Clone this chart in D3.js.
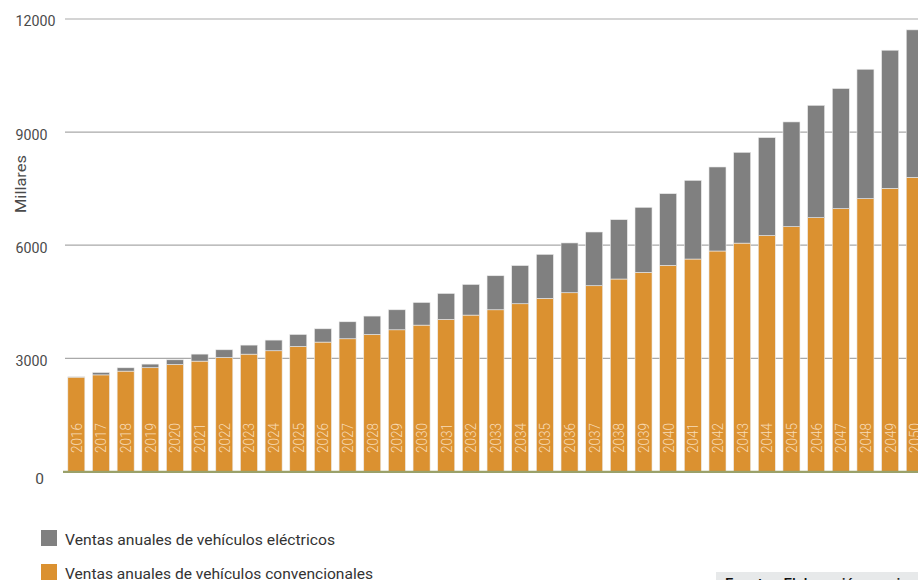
<!DOCTYPE html>
<html>
<head>
<meta charset="utf-8">
<script src="https://cdn.jsdelivr.net/npm/d3@7"></script>
<style>
  body { margin: 0; background: #fff; }
  svg { display: block; font-family: Roboto, "Noto Sans", sans-serif; }
</style>
</head>
<body>
<svg width="918" height="580"></svg>
<script>
var years = [2016, 2017, 2018, 2019, 2020, 2021, 2022, 2023, 2024, 2025,
  2026, 2027, 2028, 2029, 2030, 2031, 2032, 2033, 2034, 2035,
  2036, 2037, 2038, 2039, 2040, 2041, 2042, 2043, 2044, 2045,
  2046, 2047, 2048, 2049, 2050];

// Ventas anuales de vehículos convencionales (millares)
var convencionales = [2500, 2560, 2660, 2750, 2835, 2925, 3020, 3110, 3200, 3313,
  3430, 3518, 3632, 3756, 3880, 4030, 4146, 4287, 4447, 4588,
  4739, 4925, 5103, 5278, 5464, 5633, 5846, 6055, 6255, 6491,
  6730, 6969, 7234, 7508, 7800];

// Ventas anuales de vehículos eléctricos (millares)
var electricos = [8, 63, 88, 96, 125, 186, 206, 240, 283, 319,
  353, 451, 488, 531, 601, 690, 813, 903, 1013, 1169,
  1321, 1425, 1574, 1727, 1903, 2087, 2229, 2409, 2599, 2779,
  2981, 3186, 3433, 3664, 3912];

var yTicks = [0, 3000, 6000, 9000, 12000];
var seriesNames = ["Ventas anuales de vehículos eléctricos", "Ventas anuales de vehículos convencionales"];

var width = 918;
var height = 580;
var colorConv = "#db9130";
var colorElec = "#808080";

var rows = years.map(function (y, i) {
  return {year: y, conv: convencionales[i], elec: electricos[i]};
});

var stack = d3.stack().keys(["conv", "elec"]);
var layers = stack(rows);

var xScale = d3.scaleBand()
  .domain(years)
  .range([64, 64 + 35 * 24.66])
  .paddingInner(0.31)
  .paddingOuter(0.155);

var yScale = d3.scaleLinear().domain([0, 12000]).range([471.4, 19]);

var svg = d3.select('svg');

// gridlines
svg.append('g')
  .selectAll('line')
  .data(yTicks.filter(function (d) { return d > 0; }))
  .enter()
  .append('line')
  .attr('x1', 65)
  .attr('x2', width)
  .attr('y1', function (d) { return yScale(d); })
  .attr('y2', function (d) { return yScale(d); })
  .attr('stroke', '#a9a9a9')
  .attr('stroke-width', 1.2);

// bars
svg.append('g')
  .selectAll('g')
  .data(layers)
  .enter()
  .append('g')
  .attr('fill', function (d) { return d.key === 'conv' ? colorConv : colorElec; })
  .selectAll('rect')
  .data(function (d) { return d; })
  .enter()
  .append('rect')
  .attr('x', function (d) { return xScale(d.data.year); })
  .attr('y', function (d) { return yScale(d[1]); })
  .attr('width', xScale.bandwidth())
  .attr('height', function (d) { return yScale(d[0]) - yScale(d[1]); })
  .attr('stroke', '#ececec')
  .attr('stroke-width', 0.6);

// year labels inside the bars
svg.append('g')
  .selectAll('text')
  .data(years)
  .enter()
  .append('text')
  .attr('transform', function (d) {
    return 'translate(' + (xScale(d) + xScale.bandwidth() / 2 + 5.5) + ',453) rotate(-90)';
  })
  .attr('fill', '#f8dcb8')
  .style('font-size', '15px')
  .style('font-weight', '300')
  .attr('textLength', 30)
  .attr('lengthAdjust', 'spacingAndGlyphs')
  .text(function (d) { return d; });

// x axis line
svg.append('line')
  .attr('x1', 63)
  .attr('x2', width)
  .attr('y1', yScale(0) + 0.5)
  .attr('y2', yScale(0) + 0.5)
  .attr('stroke', '#9aa16a')
  .attr('stroke-width', 2.2);

// y axis labels
var axisLeft = d3.axisLeft(yScale).tickValues(yTicks).tickSize(0).tickFormat(d3.format('d'));
var yAxis = svg.append('g').call(axisLeft);
yAxis.select('.domain').remove();
yAxis.selectAll('text')
  .attr('x', function (d) { return d === 0 ? 39.5 : 15.5; })
  .attr('dy', function (d) { return d === 0 ? '0.75em' : '0.45em'; })
  .style('text-anchor', function (d) { return d === 0 ? 'middle' : 'start'; })
  .style('font-family', 'Roboto, sans-serif')
  .style('font-size', '15.5px')
  .attr('fill', '#4a4a4a')
  .attr('textLength', function (d) { return d === 0 ? null : String(d).length * 8; })
  .attr('lengthAdjust', 'spacingAndGlyphs');

// text label for the y axis
svg.append('text')
  .attr('transform', 'translate(26,184) rotate(-90)')
  .style('text-anchor', 'middle')
  .style('font-size', '15px')
  .attr('fill', '#4a4a4a')
  .attr('textLength', 58)
  .attr('lengthAdjust', 'spacingAndGlyphs')
  .text('Millares');

// legend
var legendLengths = [270, 308];
var legend = svg.append('g')
  .selectAll('g')
  .data(seriesNames)
  .enter()
  .append('g')
  .attr('transform', function (d, i) { return 'translate(41,' + (530 + i * 34) + ')'; });

legend.append('rect')
  .attr('width', 16)
  .attr('height', 16)
  .attr('fill', function (d, i) { return i === 0 ? colorElec : colorConv; });

legend.append('text')
  .attr('x', 24)
  .attr('y', 14.5)
  .style('font-size', '15.5px')
  .attr('fill', '#333')
  .attr('textLength', function (d, i) { return legendLengths[i]; })
  .attr('lengthAdjust', 'spacingAndGlyphs')
  .text(function (d) { return d; });

// source box, cut off at the bottom edge
svg.append('rect')
  .attr('x', 716)
  .attr('y', 572)
  .attr('width', 210)
  .attr('height', 30)
  .attr('fill', '#e7e9ea');

svg.append('text')
  .attr('x', 725)
  .attr('y', 589)
  .style('font-size', '15px')
  .style('font-weight', '500')
  .attr('fill', '#111')
  .text('Fuente - Elaboración propia');
</script>
</body>
</html>
